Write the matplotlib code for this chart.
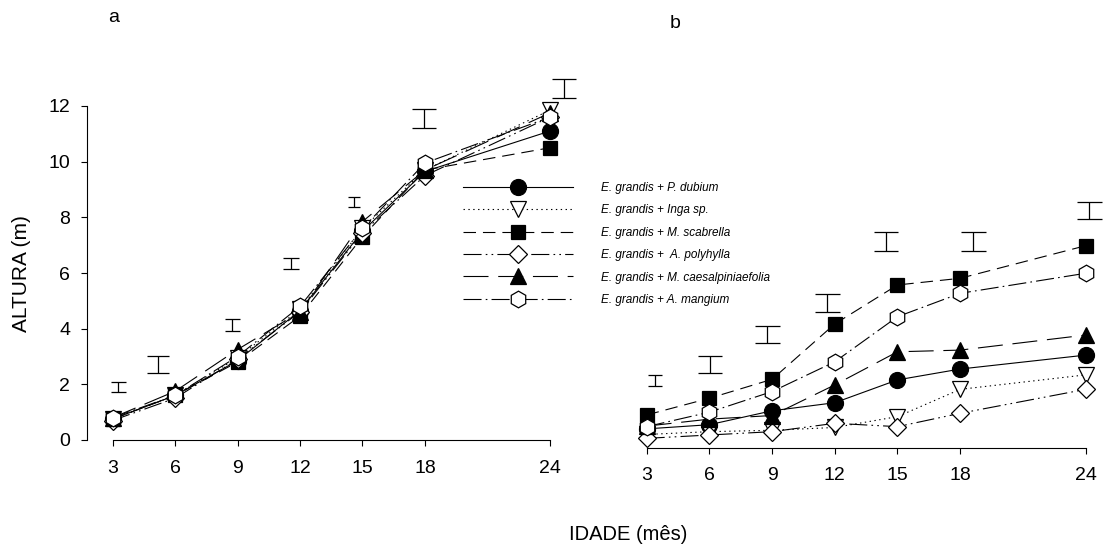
import matplotlib
matplotlib.use("Agg")
import matplotlib.pyplot as plt

plt.rcParams['font.family'] = ['Liberation Sans', 'DejaVu Sans']
plt.rcParams['lines.scale_dashes'] = False

# ---- data ----
months = [3, 6, 9, 12, 15, 18, 24]

labels = ["E. grandis + P. dubium",
          "E. grandis + Inga sp.",
          "E. grandis + M. scabrella",
          "E. grandis +  A. polyhylla",
          "E. grandis + M. caesalpiniaefolia",
          "E. grandis + A. mangium"]

# panel a
a_dubium = [0.75, 1.60, 2.85, 4.65, 7.50, 9.65, 11.10]
a_inga = [0.75, 1.60, 2.95, 4.70, 7.60, 9.70, 11.85]
a_scabrella = [0.75, 1.60, 2.80, 4.45, 7.30, 9.70, 10.50]
a_polyhylla = [0.70, 1.50, 2.90, 4.60, 7.45, 9.50, 11.60]
a_caesalp = [0.80, 1.75, 3.25, 4.60, 7.85, 9.70, 11.75]
a_mangium = [0.80, 1.60, 3.00, 4.80, 7.60, 9.95, 11.60]

# panel b
b_dubium = [0.40, 0.55, 1.05, 1.34, 2.16, 2.55, 3.05]
b_inga = [0.20, 0.30, 0.35, 0.45, 0.84, 1.82, 2.34]
b_scabrella = [0.90, 1.50, 2.18, 4.17, 5.57, 5.81, 6.98]
b_polyhylla = [0.06, 0.18, 0.30, 0.60, 0.48, 0.96, 1.82]
b_caesalp = [0.50, 0.75, 0.88, 1.98, 3.17, 3.23, 3.77]
b_mangium = [0.48, 1.00, 1.74, 2.81, 4.43, 5.27, 5.99]

# LSD bars
a_bar_x = [3.28, 5.2, 8.75, 11.57, 14.6, 17.95, 24.67]
a_bar_lo = [1.71, 2.40, 3.93, 6.14, 8.38, 11.21, 12.30]
a_bar_hi = [2.09, 3.02, 4.34, 6.53, 8.74, 11.89, 12.96]

b_bar_x = [3.4, 6.05, 8.78, 11.62, 14.43, 18.61, 24.15]
b_bar_lo = [1.95, 2.40, 3.47, 4.61, 6.80, 6.80, 7.94]
b_bar_hi = [2.34, 3.02, 4.11, 5.23, 7.46, 7.46, 8.56]

# ---- styles ----
styles = [
    dict(marker='o', ms=11.5, mfc='black', ls='-'),
    dict(marker='v', ms=11.5, mfc='white', ls=(0, (1, 2.5))),
    dict(marker='s', ms=10.3, mfc='black', ls=(0, (9, 5))),
    dict(marker='D', ms=9.3, mfc='white', ls=(0, (13, 3, 1.2, 3, 1.2, 3))),
    dict(marker='^', ms=11.5, mfc='black', ls=(0, (18, 7))),
    dict(marker='h', ms=12, mfc='white', ls=(0, (13, 3, 1.2, 3))),
]
a_caps = [15, 23, 15, 16, 12, 24, 24]
b_caps = [14, 24, 25, 25, 24, 25, 25]

W, H = 1105, 550
fig = plt.figure(figsize=(W / 100, H / 100), dpi=100)


def px_axes(left, right, top, bottom):
    return fig.add_axes([left / W, 1 - bottom / H, (right - left) / W, (bottom - top) / H])


axa = px_axes(86.7, 570.8, 72.6, 440)
axb = px_axes(636.2, 1104.4, 72.6, 448)


def draw_series(ax, series):
    lines = []
    for y, st, lab in zip(series, styles, labels):
        ln, = ax.plot(months, y, color='black', lw=0.8, ls=st['ls'],
                      marker=st['marker'], ms=st['ms'], mfc=st['mfc'],
                      mec='black', mew=0.9, label=lab, clip_on=False)
        lines.append(ln)
    return lines


def draw_bars(ax, xs, lo, hi, caps):
    for x, l, h, c in zip(xs, lo, hi, caps):
        ax.errorbar([x], [(l + h) / 2], yerr=[(h - l) / 2], fmt='none',
                    ecolor='black', elinewidth=0.9, capthick=0.9,
                    capsize=c / 2 * 0.72, clip_on=False)


lines_a = draw_series(axa, [a_dubium, a_inga, a_scabrella, a_polyhylla, a_caesalp, a_mangium])
draw_bars(axa, a_bar_x, a_bar_lo, a_bar_hi, a_caps)
draw_series(axb, [b_dubium, b_inga, b_scabrella, b_polyhylla, b_caesalp, b_mangium])
draw_bars(axb, b_bar_x, b_bar_lo, b_bar_hi, b_caps)

# axes a
axa.set_xlim(1.76, 25)
axa.set_ylim(0, 13.2)
axa.spines['top'].set_visible(False)
axa.spines['right'].set_visible(False)
axa.spines['left'].set_bounds(0, 12)
axa.spines['bottom'].set_bounds(3, 24)
axa.set_xticks(months)
axa.set_yticks(range(0, 13, 2))
axa.tick_params(axis='x', direction='out', length=4.5, width=0.8, pad=10, labelsize=14)
axa.tick_params(axis='y', direction='out', length=4.5, width=0.8, pad=7.5, labelsize=14)

# axes b
axb.set_xlim(2.5, 24.9)
axb.set_ylim(-0.287, 13.2)
for s in ['top', 'right', 'left']:
    axb.spines[s].set_visible(False)
axb.spines['bottom'].set_bounds(3, 24)
axb.set_xticks(months)
axb.set_yticks([])
axb.tick_params(axis='x', direction='out', length=4.5, width=0.8, pad=9, labelsize=14)

for ax in (axa, axb):
    for s in ax.spines.values():
        s.set_linewidth(0.8)
    ax.patch.set_alpha(0)

fs = 8.5
fs_px = fs * 100 / 72
fig.legend(handles=lines_a, loc='upper left',
           bbox_to_anchor=(463 / W, 1 - 182 / H), bbox_transform=fig.transFigure,
           frameon=False, borderpad=0, borderaxespad=0, numpoints=1,
           handlelength=110 / fs_px, handletextpad=28 / fs_px, labelspacing=0.88,
           prop=dict(family='Liberation Sans', style='italic', size=fs))

fig.text(22 / W, 1 - 274 / H, 'ALTURA (m)', rotation=90, ha='center', va='center', fontsize=15)
fig.text(628 / W, 1 - 535 / H, 'IDADE (mês)', ha='center', va='center', fontsize=14.5)
fig.text(114 / W, 1 - 17 / H, 'a', ha='center', va='center', fontsize=14)
fig.text(675 / W, 1 - 23 / H, 'b', ha='center', va='center', fontsize=14)

fig.savefig('out.png', dpi=100, facecolor='white')
